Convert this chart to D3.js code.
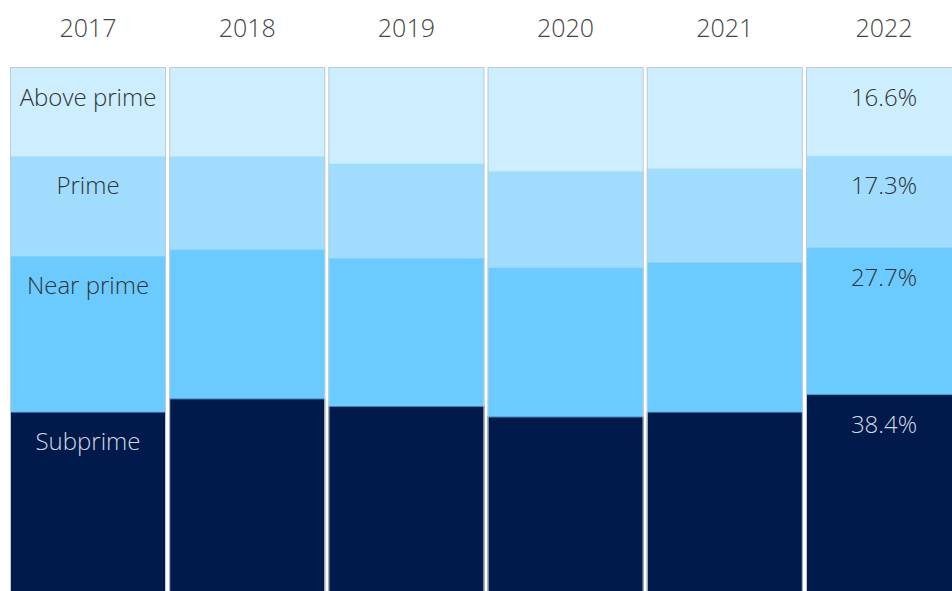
<!DOCTYPE html>
<html>
<head>
<meta charset="utf-8">
<script src="https://cdn.jsdelivr.net/npm/d3@7"></script>
<style>
  html, body { margin: 0; padding: 0; background: #fff; overflow: hidden; }
  svg { display: block; }
  text { font-family: "Open Sans", "Noto Sans", sans-serif; font-weight: 300; }
</style>
</head>
<body>
<svg id="chart" width="952" height="591"></svg>
<script>
const years = ["2017", "2018", "2019", "2020", "2021", "2022"];
const tiers = ["Subprime", "Near prime", "Prime", "Above prime"];
const subprime   = [35.1, 37.6, 36.2, 34.2, 35.1, 38.4];
const nearPrime  = [29.4, 28.1, 27.9, 28.1, 28.2, 27.7];
const prime      = [18.8, 17.6, 17.8, 18.2, 17.7, 17.3];
const abovePrime = [16.7, 16.7, 18.1, 19.5, 19.0, 16.6];

const colors = {
  "Subprime": "#001a4b",
  "Near prime": "#6ccbfe",
  "Prime": "#9fdcfd",
  "Above prime": "#cdeefe"
};
const seriesValues = {
  "Subprime": subprime,
  "Near prime": nearPrime,
  "Prime": prime,
  "Above prime": abovePrime
};

const rows = years.map((yr, i) => {
  const r = { year: yr };
  tiers.forEach(t => r[t] = seriesValues[t][i]);
  return r;
});

const svg = d3.select("#chart");
const topY = 67, plotH = 531;

const x = d3.scaleBand().domain(years).range([10, 962]).paddingInner(0.0201).paddingOuter(0);
const y = d3.scaleLinear().domain([0, 100]).range([topY + plotH, topY]);

const series = d3.stack().keys(tiers)(rows);

const g = svg.append("g");
series.forEach(s => {
  g.selectAll(null).data(s).enter().append("rect")
    .attr("x", d => x(d.data.year))
    .attr("width", x.bandwidth())
    .attr("y", d => y(d[1]))
    .attr("height", d => y(d[0]) - y(d[1]))
    .attr("fill", colors[s.key]);
  if (s.key !== "Above prime") {
    g.selectAll(null).data(s).enter().append("line")
      .attr("x1", d => x(d.data.year))
      .attr("x2", d => x(d.data.year) + x.bandwidth())
      .attr("y1", d => y(d[1]) + 0.5)
      .attr("y2", d => y(d[1]) + 0.5)
      .attr("stroke", s.key === "Subprime" ? "#4aa3d8" : (s.key === "Near prime" ? "#8fd6fd" : "#c2e9fd"))
      .attr("stroke-width", 1);
  }
});

g.selectAll(null).data(years).enter().append("rect")
  .attr("x", d => x(d) + 0.5)
  .attr("y", topY + 0.5)
  .attr("width", x.bandwidth() - 1)
  .attr("height", plotH)
  .attr("fill", "none")
  .attr("stroke", "#bccbd6")
  .attr("stroke-width", 1);

svg.selectAll(null).data(years).enter().append("text")
  .attr("x", d => x(d) + x.bandwidth() / 2)
  .attr("y", 37)
  .attr("text-anchor", "middle")
  .attr("font-size", 25)
  .attr("fill", "#444")
  .text(d => d);

series.forEach(s => {
  const d = s[0];
  svg.append("text")
    .attr("x", x(years[0]) + x.bandwidth() / 2)
    .attr("y", y(d[1]) + 38.5)
    .attr("text-anchor", "middle")
    .attr("font-size", 24)
    .attr("fill", s.key === "Subprime" ? "#d4d8e0" : "#333")
    .text(s.key);
});

const last = years.length - 1;
series.forEach(s => {
  const d = s[last];
  svg.append("text")
    .attr("x", x(years[last]) + x.bandwidth() / 2)
    .attr("y", y(d[1]) + 38.5)
    .attr("text-anchor", "middle")
    .attr("font-size", 24)
    .attr("fill", s.key === "Subprime" ? "#d4d8e0" : "#333")
    .text(d3.format(".1f")(d.data[s.key]) + "%");
});
</script>
</body>
</html>
